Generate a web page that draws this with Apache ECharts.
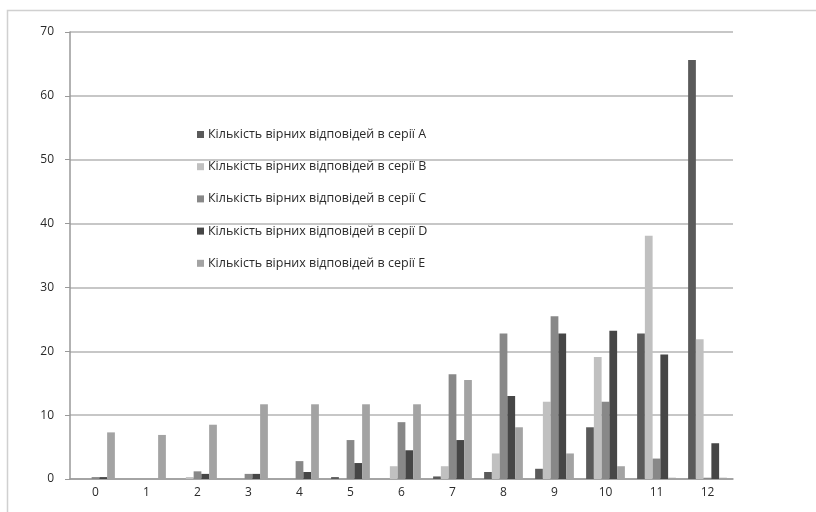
<!DOCTYPE html>
<html>
<head>
<meta charset="utf-8">
<script src="https://cdn.jsdelivr.net/npm/echarts@6/dist/echarts.min.js"></script>
<style>html,body{margin:0;padding:0;background:#fff}#c{width:816px;height:512px}</style>
</head>
<body>
<div id="c"></div>
<script>
const categories = ['0','1','2','3','4','5','6','7','8','9','10','11','12'];
const seriesNames = [
  'Кількість вірних відповідей в серії А',
  'Кількість вірних відповідей в серії В',
  'Кількість вірних відповідей в серії С',
  'Кількість вірних відповідей в серії D',
  'Кількість вірних відповідей в серії Е'
];
const seriesA = [0, 0, 0, 0, 0, 0.3, 0, 0.4, 1.1, 1.6, 8.1, 22.8, 65.6];
const seriesB = [0, 0, 0.3, 0, 0, 0, 2.0, 2.0, 4.0, 12.1, 19.1, 38.1, 21.9];
const seriesC = [0.3, 0, 1.2, 0.8, 2.8, 6.1, 8.9, 16.4, 22.8, 25.5, 12.1, 3.2, 0.2];
const seriesD = [0.3, 0, 0.8, 0.8, 1.1, 2.5, 4.5, 6.1, 13.0, 22.8, 23.2, 19.5, 5.6];
const seriesE = [7.3, 6.9, 8.5, 11.7, 11.7, 11.7, 11.7, 15.5, 8.1, 4.0, 2.0, 0.2, 0.2];
const yTicks = [0, 10, 20, 30, 40, 50, 60, 70];

const colors = ['#5a5a5a', '#c0c0c0', '#888888', '#464646', '#a3a3a3'];
const allData = [seriesA, seriesB, seriesC, seriesD, seriesE];
const font = '"Open Sans", "Liberation Sans", sans-serif';

const chart = echarts.init(document.getElementById('c'));
chart.setOption({
  animation: false,
  backgroundColor: '#fff',
  color: colors,
  graphic: [{
    type: 'rect', left: 5, top: 8, shape: { width: 900, height: 600 },
    style: { fill: 'none', stroke: '#d0d0d0', lineWidth: 1.5 }, z: -10
  }],
  grid: { left: 70, right: 83, top: 32, bottom: 33 },
  legend: {
    orient: 'vertical', left: 192, top: 123,
    itemWidth: 7, itemHeight: 7, itemGap: 19.2,
    icon: 'rect',
    textStyle: { fontFamily: font, fontSize: 12.5, lineHeight: 13, color: '#2a2a2a', padding: [0, 0, 0, -1] },
    data: seriesNames
  },
  xAxis: {
    type: 'category', data: categories,
    axisLine: { lineStyle: { color: '#999', width: 1.5 } },
    axisTick: { alignWithLabel: false, length: 5, lineStyle: { color: '#999' } },
    axisLabel: { fontFamily: font, fontSize: 12, color: '#2a2a2a', margin: 8 }
  },
  yAxis: {
    type: 'value', min: yTicks[0], max: yTicks[yTicks.length - 1], interval: 10,
    axisLine: { show: true, lineStyle: { color: '#999', width: 1.5 } },
    axisTick: { show: true, inside: false, length: 5, lineStyle: { color: '#999' } },
    axisLabel: { fontFamily: font, fontSize: 12, color: '#2a2a2a', margin: 16 },
    splitLine: { lineStyle: { color: '#b5b5b5', width: 1.5 } }
  },
  series: seriesNames.map((n, i) => ({
    name: n, type: 'bar', data: allData[i],
    barGap: '0%', barCategoryGap: '24%',
    itemStyle: { color: colors[i] }
  }))
});
</script>
</body>
</html>
